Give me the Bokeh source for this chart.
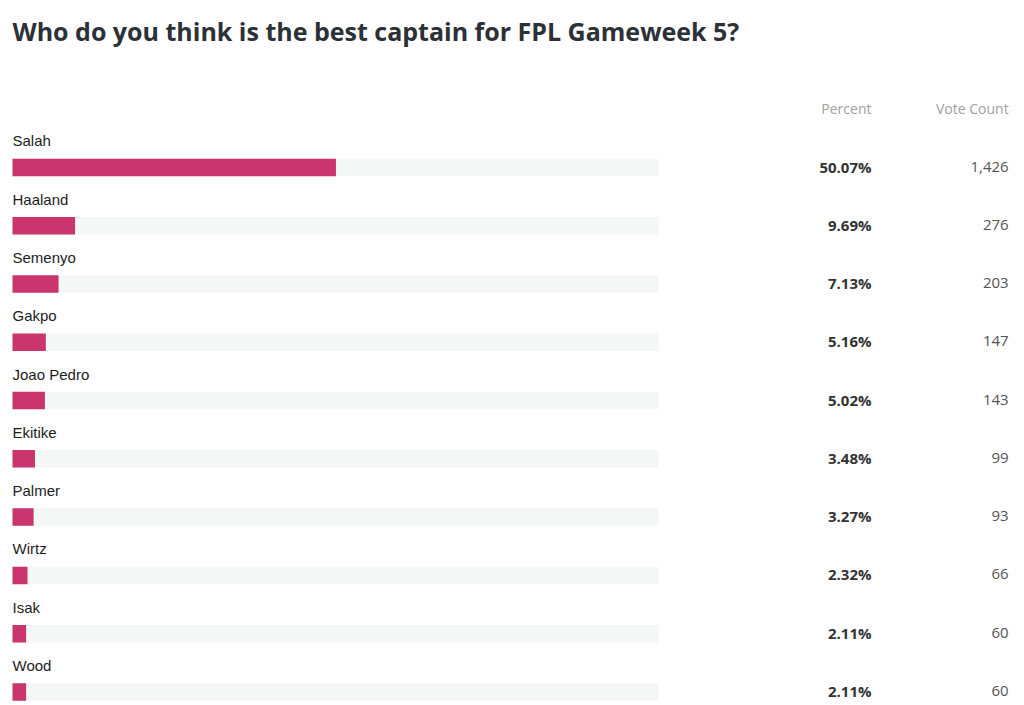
from bokeh.plotting import figure
from bokeh.models import Range1d, ColumnDataSource
from bokeh.core.properties import value
from bokeh.embed import file_html
from bokeh.resources import INLINE

title_text = "Who do you think is the best captain for FPL Gameweek 5?"
players = ["Salah", "Haaland", "Semenyo", "Gakpo", "Joao Pedro", "Ekitike",
           "Palmer", "Wirtz", "Isak", "Wood"]
percents = [50.07, 9.69, 7.13, 5.16, 5.02, 3.48, 3.27, 2.32, 2.11, 2.11]
votes = [1426, 276, 203, 147, 143, 99, 93, 66, 60, 60]
headers = ["Percent", "Vote Count"]

W, H = 1024, 705
PX_PER_UNIT = 6.46      # pixels per percent point
ROW = 58.27             # pixels per row
LEFT = 12               # pixel of 0 %
FIRST = 167             # pixel of first row centre
x0 = -LEFT / PX_PER_UNIT
x1 = (W - LEFT) / PX_PER_UNIT
y_top = -FIRST / ROW
y_bot = (H - FIRST) / ROW

p = figure(width=W, height=H, output_backend="svg", toolbar_location=None,
           x_range=Range1d(x0, x1), y_range=Range1d(y_bot, y_top),
           min_border=0, outline_line_color=None)
p.axis.visible = False
p.grid.visible = False
p.background_fill_color = "white"
p.border_fill_color = "white"

n = len(players)
rows = list(range(n))
src = ColumnDataSource(dict(
    y=rows,
    pct=percents,
    full=[100] * n,
    name=players,
    name_y=[r - 0.455 for r in rows],
    val_y=[r - 0.017 for r in rows],
    pct_txt=[f"{v:.2f}%" for v in percents],
    vote_txt=[f"{v:,}" for v in votes],
    pct_x=[132.97] * n,
    vote_x=[154.2] * n,
))

bh = 17.5 / ROW
p.hbar(y="y", left=0, right="full", height=bh, source=src,
       fill_color="#f5f6f6", line_color=None)
p.hbar(y="y", left=0, right="pct", height=bh, source=src,
       fill_color="#c9356c", line_color=None)

p.text(x=0, y="name_y", text="name", source=src,
       text_font=value("Liberation Sans"), text_font_size="15px",
       text_color="#1d1d1d", text_baseline="alphabetic", text_align="left")
p.text(x="pct_x", y="val_y", text="pct_txt", source=src,
       text_font=value("Open Sans"), text_font_size="15px", text_font_style="bold",
       text_color="#333333", text_baseline="alphabetic", text_align="right")
p.text(x="vote_x", y="val_y", text="vote_txt", source=src,
       text_font=value("Open Sans"), text_font_size="15px",
       text_color="#555555", text_baseline="alphabetic", text_align="right")

p.text(x=[132.97, 154.2], y=[-1.012, -1.012], text=headers,
       text_font=value("Open Sans"), text_font_size="14px",
       text_color="#a0a0a0", text_baseline="alphabetic", text_align="right")

p.text(x=[0], y=[-2.34], text=[title_text],
       text_font=value("Open Sans"), text_font_size="25px", text_font_style="bold",
       text_color="#2b3136", text_baseline="alphabetic", text_align="left")

open("out.html", "w").write(file_html(p, INLINE))
